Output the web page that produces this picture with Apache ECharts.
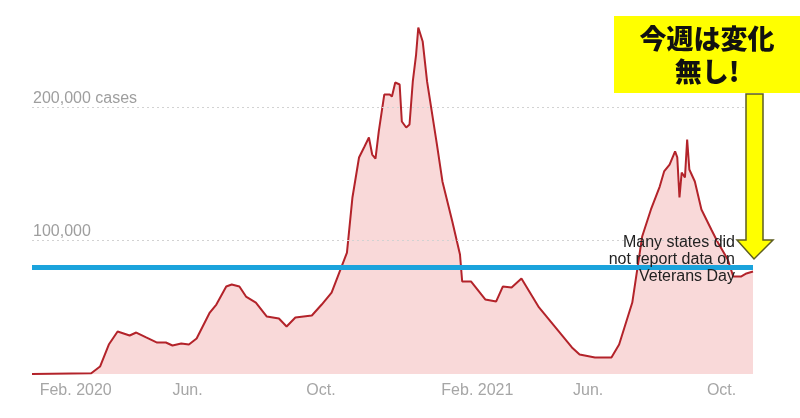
<!DOCTYPE html>
<html>
<head>
<meta charset="utf-8">
<script src="https://cdn.jsdelivr.net/npm/echarts@6/dist/echarts.min.js"></script>
<style>
html,body{margin:0;padding:0;background:#fff;}
#chart{width:800px;height:418px;}
</style>
</head>
<body>
<div id="chart"></div>
<script>
// Daily new US cases (7-day average)
const dates = [
  '2020-01-25','2020-03-19','2020-03-27','2020-04-04','2020-04-12','2020-04-23','2020-04-29',
  '2020-05-08','2020-05-18','2020-05-26','2020-06-01','2020-06-09','2020-06-16','2020-06-23',
  '2020-07-05','2020-07-11','2020-07-20','2020-07-25','2020-08-01','2020-08-07','2020-08-16',
  '2020-08-26','2020-09-06','2020-09-13','2020-09-21','2020-10-06','2020-10-15','2020-10-24',
  '2020-10-31','2020-11-07','2020-11-12','2020-11-18','2020-11-23','2020-11-27','2020-11-30',
  '2020-12-03','2020-12-06','2020-12-11','2020-12-16','2020-12-18','2020-12-21','2020-12-25',
  '2020-12-27','2020-12-31','2021-01-03','2021-01-06','2021-01-09','2021-01-11','2021-01-15',
  '2021-01-19','2021-01-28','2021-02-02','2021-02-11','2021-02-18','2021-02-20','2021-02-28',
  '2021-03-13','2021-03-23','2021-03-29','2021-04-06','2021-04-15','2021-05-01','2021-05-16',
  '2021-05-31','2021-06-07','2021-06-21','2021-07-06','2021-07-13','2021-07-25','2021-08-03',
  '2021-08-11','2021-08-19','2021-08-23','2021-08-28','2021-09-02','2021-09-04','2021-09-06',
  '2021-09-08','2021-09-11','2021-09-13','2021-09-15','2021-09-20','2021-09-26','2021-10-05',
  '2021-10-11','2021-10-20','2021-10-25','2021-11-01','2021-11-06','2021-11-12'
];
const cases = [
  0, 500, 5600, 22100, 31900, 28900, 31100,
  27400, 23600, 23600, 21400, 22900, 22100, 26600,
  46100, 52100, 65600, 67100, 65600, 58100, 53600,
  43100, 41600, 35600, 42400, 43900, 52100, 61100,
  76100, 91100, 132400, 162400, 170600, 177400, 164600,
  161600, 181900, 209600, 209600, 208100, 218600, 217100,
  189400, 184900, 187100, 219400, 239600, 259900, 249400,
  219400, 172100, 144400, 114400, 89600, 69400, 69400,
  55900, 54400, 65600, 64900, 71600, 49900, 34900,
  19900, 14600, 12400, 12400, 22100, 53600, 103100,
  123400, 140600, 151900, 157100, 166900, 162400, 132400,
  151100, 147400, 175900, 153400, 144400, 123400, 108400,
  98600, 85900, 73100, 73100, 75400, 76900
];
const gridValues = [100000, 200000];
const gridLabels = ['100,000', '200,000 cases'];
const referenceLevel = 80400;
const tickDates = ['2020-02-01','2020-06-01','2020-10-01','2021-02-01','2021-06-01','2021-10-01'];
const tickLabels = ['Feb. 2020','Jun.','Oct.','Feb. 2021','Jun.','Oct.'];
const noteLines = ['Many states did', 'not report data on', 'Veterans Day'];
const calloutText = '今週は変化\n無し!';

const toTime = s => { const p = s.split('-').map(Number); return Date.UTC(p[0], p[1] - 1, p[2]); };
const tickTimes = tickDates.map(toTime);
const seriesData = dates.map((d, i) => [toTime(d), cases[i]]);

const chart = echarts.init(document.getElementById('chart'), null, {renderer: 'canvas'});

const markData = gridValues.map((v, i) => ({
  yAxis: v,
  lineStyle: {color: '#d2d2d2', type: [2, 3], width: 1},
  label: {show: true, formatter: gridLabels[i], position: 'insideStartTop', distance: 1,
          color: '#9e9e9e', fontSize: 16, fontFamily: 'Liberation Sans, Arial, sans-serif'}
}));
markData.push({
  yAxis: referenceLevel,
  lineStyle: {color: '#1ba3dc', type: 'solid', width: 5},
  label: {show: false}
});

chart.setOption({
  animation: false,
  backgroundColor: '#ffffff',
  grid: {left: 32, top: 14, width: 721, height: 360, containLabel: false},
  xAxis: {
    type: 'value',
    min: toTime('2020-01-25'),
    max: toTime('2021-11-12'),
    axisLine: {show: false},
    axisTick: {show: false},
    splitLine: {show: false},
    axisLabel: {
      customValues: tickTimes,
      formatter: function (val) {
        const i = tickTimes.indexOf(val);
        return i >= 0 ? tickLabels[i] : '';
      },
      align: 'left',
      margin: 9,
      color: '#a6a6a6',
      fontSize: 16,
      fontFamily: 'Liberation Sans, Arial, sans-serif'
    }
  },
  yAxis: {
    type: 'value',
    min: 0,
    max: 270000,
    axisLine: {show: false},
    axisTick: {show: false},
    axisLabel: {show: false},
    splitLine: {show: false}
  },
  series: [{
    type: 'line',
    data: seriesData,
    showSymbol: false,
    smooth: false,
    lineStyle: {color: '#b3232a', width: 2},
    areaStyle: {color: '#f9d9d9', opacity: 1},
    markLine: {
      silent: true,
      symbol: 'none',
      animation: false,
      data: markData
    }
  }],
  graphic: [
    {
      type: 'rect', z: 100,
      shape: {x: 614, y: 16, width: 186, height: 77},
      style: {fill: '#ffff00'}
    },
    {
      type: 'text', z: 101,
      x: 707, y: 55,
      style: {
        text: calloutText, fill: '#111', fontSize: 27, fontWeight: 900,
        fontFamily: 'Noto Sans CJK JP, sans-serif', align: 'center', verticalAlign: 'middle',
        lineHeight: 33
      }
    },
    {
      type: 'polygon', z: 100,
      shape: {points: [[746, 94], [763, 94], [763, 240], [773, 240], [754, 259], [737, 240], [746, 240]]},
      style: {fill: '#ffff00', stroke: '#5e5e22', lineWidth: 1.5}
    },
    {
      type: 'text', z: 90,
      x: 735, y: 260,
      style: {
        text: noteLines.join('\n'), fill: '#222', fontSize: 16,
        fontFamily: 'Liberation Sans, Arial, sans-serif', align: 'right', verticalAlign: 'middle',
        lineHeight: 17
      }
    }
  ]
});
</script>
</body>
</html>
